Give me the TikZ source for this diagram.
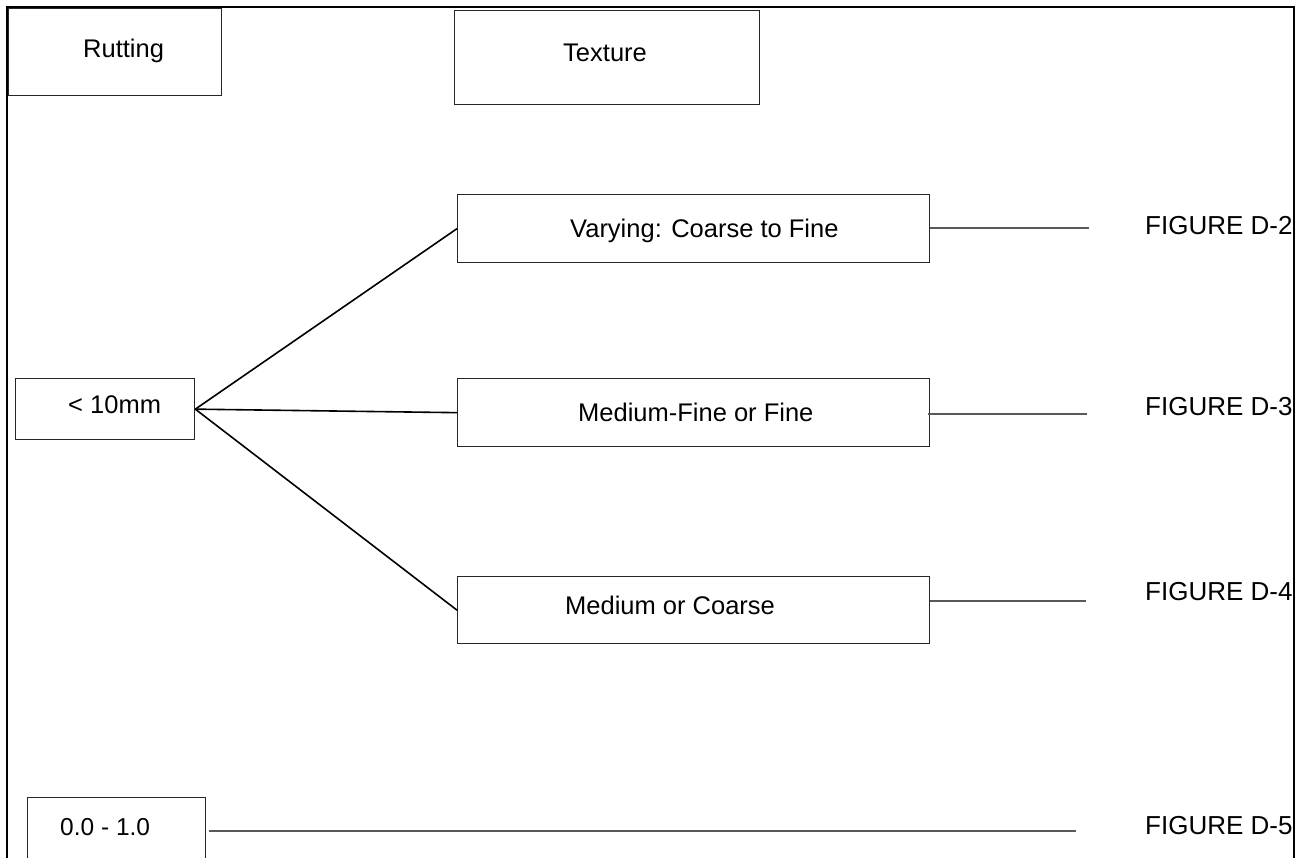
\documentclass[tikz,border=0pt]{standalone}
\usepackage{fontspec}
\setmainfont{Liberation Sans}
\begin{document}
\begin{tikzpicture}[x=1pt,y=-1pt,
  box/.style={draw=black!85, line width=1.3pt, inner sep=0pt, fill=white},
  lbl/.style={font=\fontsize{25.5}{30}\selectfont, inner sep=0pt, anchor=base west},
  flbl/.style={font=\fontsize{26}{30}\selectfont, inner sep=0pt, anchor=base west},
  nlbl/.style={font=\fontsize{24.5}{29}\selectfont, inner sep=0pt, anchor=base west},
  link/.style={line width=1.6pt, black},
  lead/.style={line width=1.3pt, black!65}]
\useasboundingbox (0,0) rectangle (1308,857);
\clip (0,0) rectangle (1308,857);
% outer frame (open at bottom)
\draw[line width=2pt] (7,880) -- (7,7) -- (1294,7) -- (1294,880);
% boxes
\node[box, minimum width=213pt, minimum height=87pt, anchor=north west] (rut) at (8,8) {};
\node[box, minimum width=305pt, minimum height=94pt, anchor=north west] (tex) at (454,10) {};
\node[box, minimum width=472pt, minimum height=68pt, anchor=north west] (var) at (457,194) {};
\node[box, minimum width=472pt, minimum height=68pt, anchor=north west] (mf) at (457,378) {};
\node[box, minimum width=472pt, minimum height=67pt, anchor=north west] (mc) at (457,576) {};
\node[box, minimum width=179pt, minimum height=61pt, anchor=north west] (lt) at (15,378) {};
\node[box, minimum width=178pt, minimum height=90pt, anchor=north west] (zo) at (27,797) {};
% labels
\node[lbl] (trut) at (83,57) {Rutting};
\node[lbl] (ttex) at (563,61) {Texture};
\node[lbl] (tvar) at (570,237) {Varying: Coarse to Fine};
\node[lbl] (tmf) at (578,421) {Medium-Fine or Fine};
\node[lbl] (tmc) at (565,614) {Medium or Coarse};
\node[lbl] (tlt) at (68,413) {< 10mm};
\node[nlbl] (tzo) at (60,835) {0.0 - 1.0};
\node[flbl] (f2) at (1145,234) {FIGURE D-2};
\node[flbl] (f3) at (1145,415) {FIGURE D-3};
\node[flbl] (f4) at (1145,600) {FIGURE D-4};
\node[flbl] (f5) at (1145,834) {FIGURE D-5};
% connectors
\draw[link] (lt.east) -- (var.west);
\draw[link] (lt.east) -- (mf.west);
\draw[link] (lt.east) -- (mc.west);
% leader lines
\coordinate (e2) at (1089,228);
\coordinate (e3) at (1087,414);
\coordinate (e4) at (1086,601);
\coordinate (e5) at (1076,831);
\draw[lead] (var.east |- e2) -- (e2);
\draw[lead] ([xshift=-2pt]mf.east |- e3) -- (e3);
\draw[lead] (mc.east |- e4) -- (e4);
\draw[lead] ([xshift=3pt]zo.east |- e5) -- (e5);
\end{tikzpicture}
\end{document}
